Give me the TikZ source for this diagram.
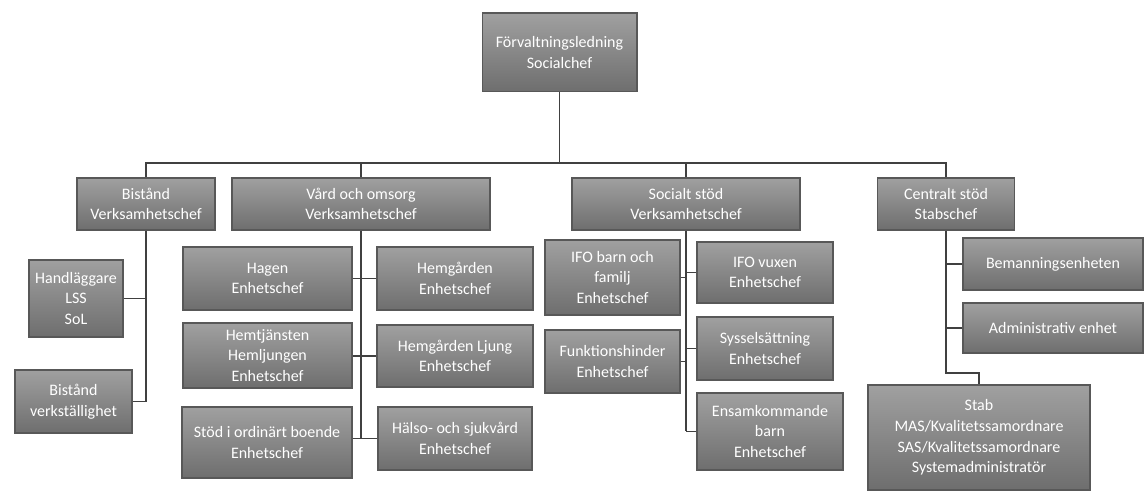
\documentclass[tikz,border=0pt]{standalone}
\usepackage{fontspec}
\setmainfont{Carlito}
\usepackage{tikz}
\usetikzlibrary{positioning}

\definecolor{boxtop}{HTML}{A0A0A0}
\definecolor{boxbot}{HTML}{6E6E6E}
\definecolor{boxedge}{HTML}{585858}
\definecolor{linkgray}{HTML}{404040}

\tikzset{
  unit/.style={rectangle, draw=boxedge, line width=1pt, top color=boxtop, bottom color=boxbot,
    text=white, align=center, inner sep=2pt, font=\fontsize{12}{15.5}\selectfont},
  link/.style={draw=linkgray, line width=0.8pt}
}

\begin{document}
\begin{tikzpicture}[x=0.75pt, y=-0.75pt]

      \useasboundingbox (0,0) rectangle (1146,491);

      % ledning
      \node[unit, minimum width=116pt, minimum height=59pt] (top) at (559.5,52.5) {Förvaltningsledning\\Socialchef};

      \node[unit, minimum width=103.5pt, minimum height=39pt] (bist) at (146,204) {Bistånd\\Verksamhetschef};
      \node[unit, minimum width=193.5pt, minimum height=39pt] (vard) at (361,204) {Vård och omsorg\\Verksamhetschef};
      \node[unit, minimum width=171pt, minimum height=39pt] (soc) at (686,204) {Socialt stöd\\Verksamhetschef};
      \node[unit, minimum width=102.75pt, minimum height=39pt] (cent) at (946,204) {Centralt stöd\\Stabschef};

      \coordinate (bus) at (0,163);

      % bistånd
      \node[unit, minimum width=70.5pt, minimum height=57.75pt] (handl) at (76,298.5) {Handläggare\\LSS\\SoL};
      \node[unit, minimum width=87.75pt, minimum height=47.25pt] (bverk) at (73.5,401.5) {Bistånd\\verkställighet};

      % vård och omsorg
      \node[unit, minimum width=126.75pt, minimum height=47.25pt] (hagen) at (267.5,278.5) {Hagen\\Enhetschef};
      \node[unit, minimum width=126.75pt, minimum height=48.75pt] (hemtj) at (267.5,355.5) {Hemtjänsten\\Hemljungen\\Enhetschef};
      \node[unit, minimum width=127.5pt, minimum height=53.25pt] (stod) at (267,442.5) {Stöd i ordinärt boende\\Enhetschef};
      \node[unit, minimum width=117pt, minimum height=47.25pt] (hemg) at (455,278.5) {Hemgården\\Enhetschef};
      \node[unit, minimum width=117pt, minimum height=46.5pt] (hemgl) at (455,356) {Hemgården Ljung\\Enhetschef};
      \node[unit, minimum width=115.5pt, minimum height=47.25pt] (halso) at (455,438.5) {Hälso- och sjukvård\\Enhetschef};

      % socialt stöd
      \node[unit, minimum width=101.25pt, minimum height=56.25pt] (ifob) at (612.5,277.5) {IFO barn och\\familj\\Enhetschef};
      \node[unit, minimum width=101.25pt, minimum height=47.25pt] (funk) at (612.5,361.5) {Funktionshinder\\Enhetschef};
      \node[unit, minimum width=102pt, minimum height=45.75pt] (ifov) at (765,272.5) {IFO vuxen\\Enhetschef};
      \node[unit, minimum width=102pt, minimum height=47.25pt] (syss) at (765,348.5) {Sysselsättning\\Enhetschef};
      \node[unit, minimum width=109.5pt, minimum height=57.75pt] (ensam) at (770,431.5) {Ensamkommande\\barn\\Enhetschef};

      % centralt stöd
      \node[unit, minimum width=135pt, minimum height=39pt] (beman) at (1053,264) {Bemanningsenheten};
      \node[unit, minimum width=135pt, minimum height=37.5pt] (admin) at (1053,328) {Administrativ enhet};
      \node[unit, minimum width=166.5pt, minimum height=78.75pt] (stab) at (979,437.5) {Stab\\MAS/Kvalitetssamordnare\\SAS/Kvalitetssamordnare\\Systemadministratör};
      \coordinate (stabknee) at (946,373);

      \draw[link] (top.south) -- (top.south |- bus);
      \foreach \n in {bist, vard, soc, cent}
        \draw[link] (top.south |- bus) -| (\n.north);

      \draw[link] (bist.south) |- (bverk.east);
      \draw[link] (handl.east) -- (handl.east -| bist.south);

      \draw[link] (vard.south) -- (vard.south |- halso.west);
      \foreach \l/\r in {hagen/hemg, hemtj/hemgl, stod/halso}
        \draw[link] (\l.east |- \r.west) -- (\r.west);

      \draw[link] (soc.south) -- (soc.south |- ensam.west);
      \foreach \n in {ifob, funk}
        \draw[link] (\n.east) -- (\n.east -| soc.south);
      \foreach \n in {ifov, syss, ensam}
        \draw[link] (\n.west) -- (\n.west -| soc.south);

      \draw[link] (cent.south) -- (stabknee) -| (stab.north);
      \foreach \n in {beman, admin}
        \draw[link] (\n.west) -- (\n.west -| cent.south);

\end{tikzpicture}
\end{document}
